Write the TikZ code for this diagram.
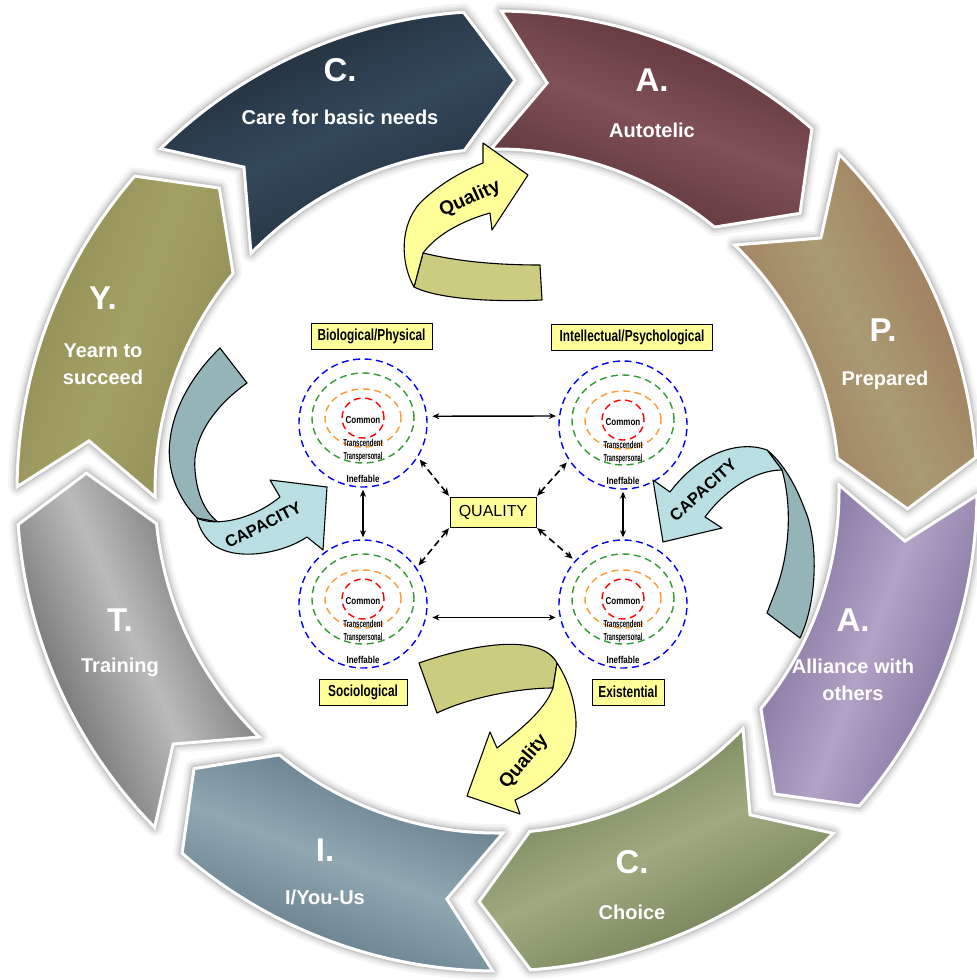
\documentclass[tikz,border=0pt]{standalone}
\usepackage{fontspec}
\setmainfont{Liberation Sans}
\usetikzlibrary{arrows.meta,calc}
\definecolor{qyel}{HTML}{FFFF99}
\definecolor{qolive}{HTML}{CCCC80}
\definecolor{caplt}{HTML}{B9DFE3}
\definecolor{capdk}{HTML}{95B4B8}
\definecolor{cblue}{HTML}{0000FF}
\definecolor{cgreen}{HTML}{339933}
\definecolor{corange}{HTML}{FF9933}
\definecolor{cred}{HTML}{FF0000}
% ring colours
\definecolor{cCd}{HTML}{1E2A37}\definecolor{cCl}{HTML}{34485B}
\definecolor{cAd}{HTML}{573135}\definecolor{cAl}{HTML}{805156}
\definecolor{cPd}{HTML}{9C7559}\definecolor{cPl}{HTML}{AA9B73}
\definecolor{cBd}{HTML}{7B6996}\definecolor{cBl}{HTML}{B2A2C6}
\definecolor{cHd}{HTML}{69794F}\definecolor{cHl}{HTML}{A0AA80}
\definecolor{cId}{HTML}{5B7282}\definecolor{cIl}{HTML}{90A8B2}
\definecolor{cTd}{HTML}{5A5A5A}\definecolor{cTl}{HTML}{BBBBBB}
\definecolor{cYd}{HTML}{8E8A54}\definecolor{cYl}{HTML}{A4A166}
\def\Ro{480}\def\Ri{342}\def\Rm{411}\def\tipd{6.5}
\newcommand\segpath[2]{(#1:\Ro) arc[start angle=#1, end angle=#2, radius=\Ro] -- ({#2-\tipd}:\Rm) -- ({#2+1.5}:\Ri) arc[start angle={#2+1.5}, end angle={#1+1.5}, radius=\Ri] -- ({#1-\tipd}:\Rm) -- cycle}
\newcommand\ringshadow[2]{%
  \foreach \ww/\oo in {18/0.04,13/0.05,9/0.06,6/0.08}{\draw[line width=\ww, black, opacity=\oo, line join=round] \segpath{#1}{#2};}}
\newcommand\ringseg[4]{%
  \pgfmathsetmacro\sgang{(#1+#2)/2-90}%
  \path[draw=white, line width=3, line join=miter, top color=#3, bottom color=#3, middle color=#4, shading angle=\sgang] \segpath{#1}{#2};}
\newcommand\circgrp[3]{%
  \node[circle, draw=cblue, dring, minimum size=128, inner sep=0] (#1) at (#2,-#3) {};
  \draw[cgreen, dring] ($(#1)+(0,5)$) ellipse[x radius=51, y radius=45];
  \draw[corange, dring] ($(#1)+(0,5)$) ellipse[x radius=38, y radius=29];
  \draw[cred, dring] ($(#1)+(0,5)$) ellipse[x radius=21, y radius=20];
  \node[tinyt] (#1c) at ($(#1)+(0,3)$) {\scalebox{0.8}[1]{Common}};
  \node[tinyt] (#1t) at ($(#1)+(0,-20)$) {\scalebox{0.6}[1]{Transcendent}};
  \node[tinyt] (#1p) at ($(#1)+(0,-34)$) {\scalebox{0.57}[1]{Transpersonal}};
  \node[tinyt] (#1i) at ($(#1)+(0,-56)$) {\scalebox{0.8}[1]{Ineffable}};}
\begin{document}
\begin{tikzpicture}[x=1pt,y=1pt,
  big/.style={text=white, font=\bfseries\fontsize{33}{33}\selectfont, inner sep=0},
  lbl/.style={text=white, font=\bfseries\fontsize{20}{27}\selectfont, align=center, inner sep=0},
  dring/.style={line width=1.4, dash pattern=on 7pt off 4.5pt},
  tinyt/.style={font=\bfseries\fontsize{10}{10}\selectfont, inner sep=0},
  ybox/.style={draw=black, fill=qyel, line width=0.8, inner sep=0, minimum height=26,
     font=\bfseries\fontsize{16}{16}\selectfont},
  ribbon/.style={draw=black, line width=1.1, line join=round},
  qtext/.style={font=\bfseries\fontsize{19}{19}\selectfont, inner sep=0},
  ctext/.style={font=\bfseries\fontsize{16.5}{16.5}\selectfont, inner sep=0},
  sarr/.style={line width=1.4, {Stealth[length=7,width=6]}-{Stealth[length=7,width=6]}},
  darr/.style={line width=1.6, dash pattern=on 7pt off 4pt, {Stealth[length=8,width=7]}-{Stealth[length=8,width=7]}}
]
\useasboundingbox (0,0) rectangle (977,-980);
\fill[white] (0,0) rectangle (977,-980);
% ---------------- ring ----------------
\begin{scope}[shift={(497,-491)}]
  \foreach \s/\e in {134.5/94, 89.5/49, 44.5/4, -0.5/-41, -45.5/-86, -90.5/-131, -135.5/-176, 179.5/139}{\ringshadow{\s}{\e}}
  \ringseg{134.5}{94}{cCd}{cCl}
  \ringseg{89.5}{49}{cAd}{cAl}
  \ringseg{44.5}{4}{cPd}{cPl}
  \ringseg{-0.5}{-41}{cBd}{cBl}
  \ringseg{-45.5}{-86}{cHd}{cHl}
  \ringseg{-90.5}{-131}{cId}{cIl}
  \ringseg{-135.5}{-176}{cTd}{cTl}
  \ringseg{179.5}{139}{cYd}{cYl}
\end{scope}
% ring labels
\node[big] (lC) at (340,-70) {C.};
\node[lbl] (tC) at (340,-117) {Care for basic needs};
\node[big] (lA) at (652,-80) {A.};
\node[lbl] (tA) at (652,-130) {Autotelic};
\node[big] (lP) at (883,-330) {P.};
\node[lbl] (tP) at (885,-380) {Prepared};
\node[big] (lA2) at (853,-620) {A.};
\node[lbl] (tA2) at (853,-680) {Alliance with\\others};
\node[big] (lCh) at (632,-862) {C.};
\node[lbl] (tCh) at (632,-912) {Choice};
\node[big] (lI) at (325,-850) {I.};
\node[lbl] (tI) at (325,-897) {I/You-Us};
\node[big] (lT) at (120,-620) {T.};
\node[lbl] (tT) at (120,-667) {Training};
\node[big] (lY) at (103,-298) {Y.};
\node[lbl] (tY) at (103,-364) {Yearn to\\succeed};
% ---------------- centre diagram ----------------
\circgrp{tl}{363}{423}
\circgrp{tr}{623}{425}
\circgrp{bl}{363}{604}
\circgrp{br}{623}{604}
\node[ybox, minimum width=121] (bio) at (371.5,-336) {\scalebox{0.74}[1]{Biological/Physical}};
\node[ybox, minimum width=161] (int) at (632,-337) {\scalebox{0.74}[1]{Intellectual/Psychological}};
\node[ybox, minimum width=88] (soc) at (363,-692) {\scalebox{0.74}[1]{Sociological}};
\node[ybox, minimum width=72] (exi) at (628,-692) {\scalebox{0.74}[1]{Existential}};
\node[draw=black, fill=qyel, line width=0.8, minimum width=86, minimum height=30, inner sep=0,
  font=\fontsize{16}{16}\selectfont] (qual) at (493,-512) {QUALITY};
% solid arrows
\draw[sarr, shorten <=5, shorten >=3] (tl.6) -- (tr.172);
\draw[sarr, shorten <=6, shorten >=4] (bl.-12) -- (br.192);
\draw[sarr, shorten <=2, shorten >=2] (tl.south) -- (bl.north);
\draw[sarr, shorten <=2, shorten >=2] (tr.south) -- (br.north);
% dashed arrows
\draw[darr, shorten <=1, shorten >=3] (qual.north west) -- (tl.-32);
\draw[darr, shorten <=1, shorten >=3] (qual.north east) -- (tr.213);
\draw[darr, shorten <=1, shorten >=3] (qual.south west) -- (bl.34);
\draw[darr, shorten <=1, shorten >=3] (qual.south east) -- (br.138);
% ---------------- ribbon arrows ----------------
% top Quality
\draw[ribbon, fill=qolive] (423,-253) .. controls (460,-262) and (500,-265) .. (540,-265) -- (542,-300) .. controls (500,-302) and (440,-300) .. (414,-287) -- cycle;
\draw[ribbon, fill=qyel] (414,-287) .. controls (400,-262) and (400,-225) .. (420,-203) .. controls (440,-183) and (465,-170) .. (483,-163) -- (483,-143) -- (528,-175) -- (492,-230) -- (490,-213) .. controls (465,-220) and (438,-233) .. (423,-253) -- cycle;
\node[qtext, rotate=24] (q1t) at (470,-199) {Quality};
% bottom Quality
\draw[ribbon, fill=qolive] (419,-663) .. controls (470,-645) and (540,-632) .. (557,-663) -- (553,-688) .. controls (520,-688) and (470,-697) .. (437,-713) -- cycle;
\draw[ribbon, fill=qyel] (557,-663) .. controls (575,-690) and (585,-735) .. (565,-762) .. controls (550,-782) and (530,-793) .. (515,-800) -- (520,-814) -- (467,-796) -- (490,-732) -- (497,-748) .. controls (520,-730) and (545,-710) .. (553,-688) -- cycle;
\node[qtext, rotate=50] (q2t) at (524,-762) {Quality};
% left CAPACITY
\draw[ribbon, fill=capdk] (220,-348) -- (247,-383) .. controls (212,-408) and (192,-440) .. (195,-470) .. controls (197,-495) and (205,-512) .. (218,-522) -- (197,-518) .. controls (178,-498) and (166,-470) .. (170,-440) .. controls (174,-405) and (195,-372) .. (220,-348) -- cycle;
\draw[ribbon, fill=caplt] (197,-518) .. controls (215,-527) and (252,-520) .. (280,-497) -- (270,-480) -- (327,-487) -- (323,-550) -- (307,-537) .. controls (285,-552) and (240,-562) .. (215,-546) .. controls (205,-539) and (199,-528) .. (197,-518) -- cycle;
\node[ctext, rotate=27] (c1t) at (263,-525) {CAPACITY};
% right CAPACITY
\draw[ribbon, fill=capdk] (782,-470) .. controls (792,-505) and (790,-550) .. (777,-587) -- (767,-613) -- (800,-638) .. controls (818,-600) and (818,-540) .. (805,-510) .. controls (795,-483) and (782,-462) .. (767,-450) -- cycle;
\draw[ribbon, fill=caplt] (767,-450) .. controls (740,-440) and (700,-452) .. (670,-492) -- (653,-480) -- (663,-542) -- (722,-528) -- (705,-517) .. controls (725,-490) and (755,-470) .. (782,-470) -- cycle;
\node[ctext, rotate=42] (c2t) at (703,-490) {CAPACITY};
\end{tikzpicture}
\end{document}
